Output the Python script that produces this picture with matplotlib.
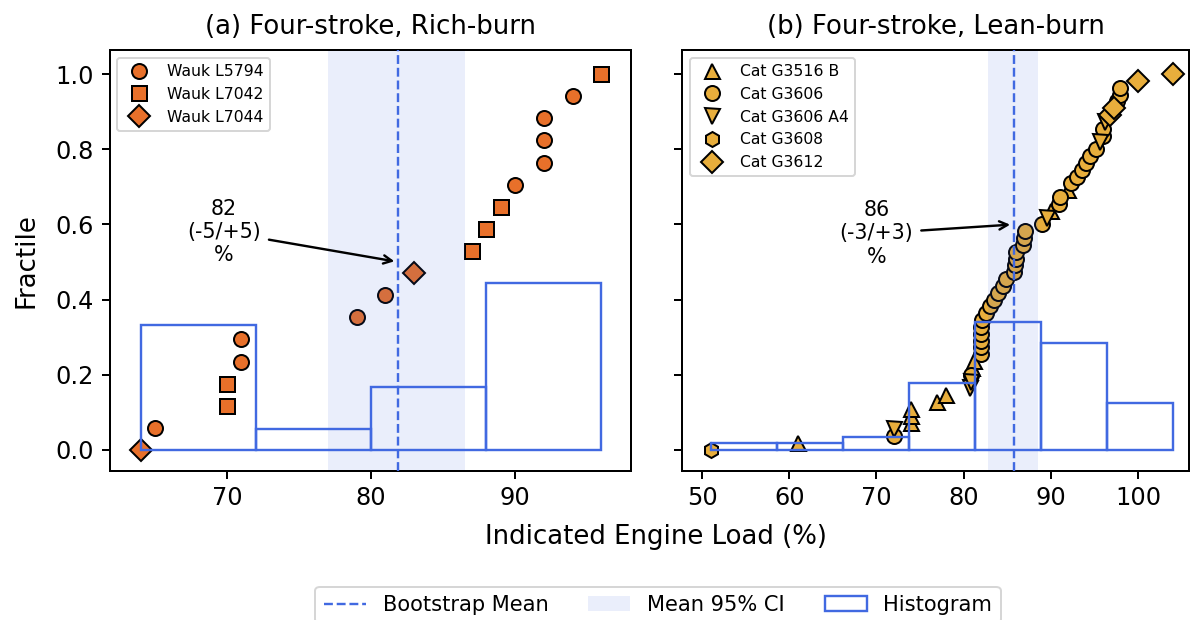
import numpy as np
import matplotlib
matplotlib.use("Agg")
import matplotlib.pyplot as plt
from matplotlib.lines import Line2D
from matplotlib.patches import Patch

## Data: indicated engine load (%) per engine model
rich_names = ["Wauk L5794", "Wauk L7042", "Wauk L7044"]
rich_markers = ["o", "s", "D"]
rich_loads = [
    [65, 71, 71, 79, 81, 90, 92, 92, 92, 94],
    [70, 70, 87, 88, 89, 96],
    [64, 83],
]

lean_names = ["Cat G3516 B", "Cat G3606", "Cat G3606 A4", "Cat G3608", "Cat G3612"]
lean_markers = ["^", "o", "v", "h", "D"]
lean_loads = [
    [61, 74, 74, 74, 77, 78, 81.0, 81.2, 90.0, 92.0],
    [72, 80.9, 82, 82, 82, 82, 82, 82.1, 82.6, 83.0, 83.5, 84.0, 84.5, 84.9,
     85.8, 85.9, 86.0, 86.0, 86.8, 86.9, 87.0, 89.0, 91.0, 91.1, 92.3, 93.0,
     93.6, 94.0, 94.5, 95.2, 96.0, 96.0, 97.6, 98.0, 98.0],
    [72, 80.7, 80.8, 89.6, 95.6, 96.2],
    [51],
    [96.8, 97.2, 100.0, 104.0],
]

# bootstrap mean and 95% CI of the mean
rich_boot = (81.9, 77.0, 86.5)
lean_boot = (85.8, 82.76, 88.5)

rich_color = "#e8702a"
lean_color = "#e8ae3c"
blue = "royalblue"


def fractiles(groups):
    """Rank of every value among all groups, scaled to [0, 1]."""
    allv = np.concatenate([np.asarray(g, float) for g in groups])
    order = np.argsort(allv, kind="stable")
    ranks = np.empty(len(allv))
    ranks[order] = np.arange(len(allv))
    frac = ranks / (len(allv) - 1)
    out, i = [], 0
    for g in groups:
        out.append(frac[i:i + len(g)])
        i += len(g)
    return allv, out


def panel(ax, groups, names, markers, color, boot, nbins):
    allv, fr = fractiles(groups)
    for vals, f, name, m in zip(groups, fr, names, markers):
        ax.plot(vals, f, m, ls="none", ms=7.5, mfc=color, mec="k", mew=1.0,
                label=name, zorder=2)
    mean, lo, hi = boot
    ax.axvspan(lo, hi, color=blue, alpha=0.11, lw=0, zorder=2.5)
    ax.hist(allv, bins=nbins, weights=np.ones(len(allv)) / len(allv),
            fill=False, edgecolor=blue, lw=1.2, zorder=3)
    ax.axvline(mean, color=blue, ls="--", lw=1.2, zorder=3.5)
    txt = f"{mean:.0f}\n(-{mean - lo:.0f}/+{hi - mean:.0f})\n%"
    return mean, txt


fig = plt.figure(figsize=(1194 / 144, 620 / 144), dpi=144)
ax1 = fig.add_axes([109.5 / 1194, 149 / 620, 521.5 / 1194, 421 / 620])
ax2 = fig.add_axes([682 / 1194, 149 / 620, 507 / 1194, 421 / 620], sharey=ax1)

m1, t1 = panel(ax1, rich_loads, rich_names, rich_markers, rich_color, rich_boot, 4)
m2, t2 = panel(ax2, lean_loads, lean_names, lean_markers, lean_color, lean_boot, 7)

ax1.annotate(t1, xy=(m1, 0.5), xytext=(69.8, 0.58), ha="center", va="center",
             fontsize=10.3, arrowprops=dict(arrowstyle="->", color="k", lw=1.2))
ax2.annotate(t2, xy=(m2, 0.6), xytext=(70.0, 0.576), ha="center", va="center",
             fontsize=10.3, arrowprops=dict(arrowstyle="->", color="k", lw=1.2))

ax1.set_xlim(61.84, 98.06)
ax2.set_xlim(47.7, 105.86)
ax1.set_ylim(-0.056, 1.064)
ax1.set_xticks([70, 80, 90])
ax2.set_xticks([50, 60, 70, 80, 90, 100])
ax1.set_yticks(np.arange(0, 1.01, 0.2))
plt.setp(ax2.get_yticklabels(), visible=False)

for ax, title in [(ax1, "(a) Four-stroke, Rich-burn"), (ax2, "(b) Four-stroke, Lean-burn")]:
    ax.set_title(title, fontsize=13, pad=8)
    ax.tick_params(labelsize=12, width=1.0, length=4.2)
    for sp in ax.spines.values():
        sp.set_linewidth(1.0)
    ax.legend(loc="upper left", fontsize=7.8, numpoints=1)

ax1.set_ylabel("Fractile", fontsize=13, labelpad=8)
fig.text(656 / 1194, 1 - 537 / 620, "Indicated Engine Load (%)", ha="center",
         va="center", fontsize=13)

handles = [
    Line2D([], [], color=blue, ls="--", lw=1.2),
    Patch(facecolor=blue, alpha=0.11, lw=0),
    Patch(facecolor="none", edgecolor=blue, lw=1.2),
]
fig.legend(handles, ["Bootstrap Mean", "Mean 95% CI", "Histogram"], ncol=3,
           loc="upper center", bbox_to_anchor=(658 / 1194, 1 - 576 / 620),
           fontsize=10.5, columnspacing=1.9)

fig.savefig("out.png", dpi=144)
